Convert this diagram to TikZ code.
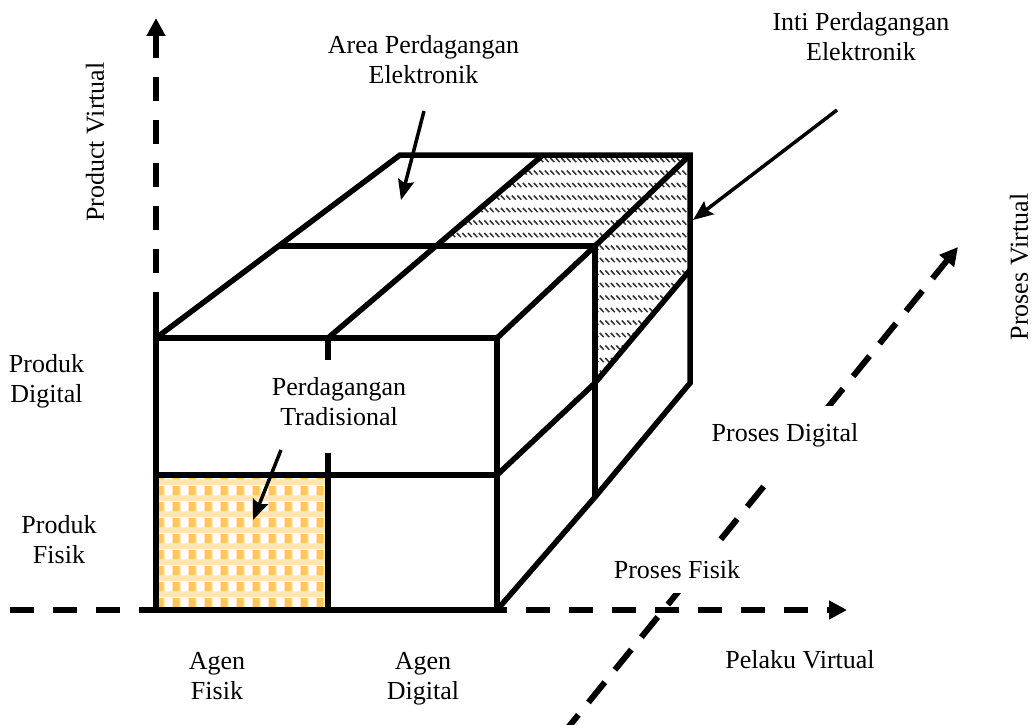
\documentclass[tikz,border=0pt]{standalone}
\usepackage{fontspec}
\setmainfont{Liberation Serif}
\usetikzlibrary{arrows.meta,patterns}

\definecolor{checkdark}{HTML}{FFC65C}
\definecolor{checklight}{HTML}{FFE5B4}
\definecolor{hatchgray}{HTML}{333333}

% gingham check for the traditional-trade cell
\pgfdeclarepatterninherentlycolored{gingham}{\pgfpointorigin}{\pgfqpoint{15.6pt}{16pt}}{\pgfqpoint{15.6pt}{16pt}}{%
  \pgfsetfillcolor{checklight}%
  \pgfpathrectangle{\pgfpointorigin}{\pgfqpoint{15.6pt}{6pt}}%
  \pgfpathrectangle{\pgfqpoint{0pt}{6pt}}{\pgfqpoint{1.2pt}{10pt}}%
  \pgfpathrectangle{\pgfqpoint{7.8pt}{6pt}}{\pgfqpoint{1.2pt}{10pt}}%
  \pgfusepath{fill}%
  \pgfsetfillcolor{checkdark}%
  \pgfpathrectangle{\pgfqpoint{1.2pt}{6pt}}{\pgfqpoint{6.6pt}{10pt}}%
  \pgfusepath{fill}%
}

% rows of short downward-diagonal dashes for the core e-commerce cell
\pgfdeclarepatternformonly{dashhatch}{\pgfqpoint{-1pt}{-1pt}}{\pgfqpoint{6.5pt}{13.5pt}}{\pgfqpoint{5.5pt}{12.5pt}}{%
  \pgfsetlinewidth{1.5pt}%
  \pgfpathmoveto{\pgfqpoint{0.3pt}{4.5pt}}%
  \pgfpathlineto{\pgfqpoint{4.3pt}{0.3pt}}%
  \pgfusepath{stroke}%
}

\newcommand\lblstrut{\rule{0pt}{20pt}}

\tikzset{
  edge/.style={line width=5.5pt, line join=miter},
  axis/.style={line width=6pt, dash pattern=on 24pt off 19pt,
               -{Triangle[length=18pt,width=18pt]}},
  diagaxis/.style={axis, dash pattern=on 26pt off 16pt},
  pointer/.style={line width=3.5pt, -{Stealth[length=20pt,width=16pt,inset=3pt]}},
  lbl/.style={font=\fontsize{26}{30}\selectfont, inner sep=0pt, align=center},
}

\begin{document}
\begin{tikzpicture}[x=1pt, y=-1pt]
\useasboundingbox (0,0) rectangle (1034,725);

% front face corners
\coordinate (fTL) at (156,338); \coordinate (fTM) at (328,338); \coordinate (fTR) at (497,338);
\coordinate (fML) at (156,475); \coordinate (fMM) at (328,475); \coordinate (fMR) at (497,475);
\coordinate (fBL) at (156,610); \coordinate (fBM) at (328,610); \coordinate (fBR) at (497,610);
% back edge
\coordinate (bTL) at (400,155); \coordinate (bTM) at (543,155); \coordinate (bTR) at (690,155);
\coordinate (bRM) at (690,270); \coordinate (bRB) at (690,383);
% middle depth section
\coordinate (mTL) at (279,246); \coordinate (mTM) at (436,246); \coordinate (mTR) at (595,246);
\coordinate (mRM) at (595,383); \coordinate (mRB) at (595,497);

% filled cells
\fill[pattern=gingham] (fML) rectangle (fBM);
\fill[pattern=dashhatch, pattern color=hatchgray]
  (bTM) -- (bTR) -- (bRM) -- (mRM) -- (mTR) -- (mTM) -- cycle;

% axes
\coordinate (yBase) at (156,316); \coordinate (yTip) at (156,18);
\coordinate (xBase) at (10,610);  \coordinate (xTip) at (847,610);
\coordinate (zBase) at (562,735); \coordinate (zTip) at (958,247);
\draw[line width=6pt] (fTL) -- (yBase);
\draw[axis] (yBase) -- (yTip);
\draw[axis] (xBase) -- (xTip);
\draw[diagaxis] (zBase) -- (zTip);

% cube edges
\draw[edge] (fBL) rectangle (fTR);
\draw[edge] (fML) -- (fMR);
\draw[edge] (fTM) -- (fBM);
\draw[edge] (fTL) -- (bTL) -- (bTR) -- (bRB) -- (mRB) -- (fBR);
\draw[edge] (fTR) -- (mTR) -- (bTR);
\draw[edge] (fTM) -- (mTM) -- (bTM);
\draw[edge] (mTL) -- (mTR) -- (mRB);
\draw[edge] (fMR) -- (mRM) -- (bRM);

% labels
\node[lbl, anchor=north] (area) at (423.5,33) {\lblstrut Area Perdagangan\\Elektronik};
\node[lbl, anchor=north] (inti) at (861,10) {\lblstrut Inti Perdagangan\\Elektronik};
\node[lbl, anchor=north] (trad) at (339,360) [fill=white, inner xsep=8pt]
  {\rule{0pt}{35pt}Perdagangan\\Tradisional\rule[-28pt]{0pt}{28pt}};
\node[lbl, anchor=north] (pdigital) at (46.5,352) {\lblstrut Produk\\Digital};
\node[lbl, anchor=north] (pfisik) at (59,513) {\lblstrut Produk\\Fisik};
\node[lbl, anchor=north] (afisik) at (217,649) {\lblstrut Agen\\Fisik};
\node[lbl, anchor=north] (adigital) at (423,649) {\lblstrut Agen\\Digital};
\node[lbl, anchor=base, fill=white, inner xsep=4pt, text height=35pt, text depth=36pt]
  (prdigital) at (785,441) {Proses Digital};
\node[lbl, anchor=base, fill=white, inner xsep=4pt, text height=35pt, text depth=15pt]
  (prfisik) at (677,578) {Proses Fisik};
\node[lbl, anchor=base] (pelaku) at (800,668) {Pelaku Virtual};
\node[lbl, rotate=90] (prodvirt) at (95,142) {Product Virtual};
\node[lbl, rotate=90] (prosvirt) at (1019,267) {Proses Virtual};

% pointers
\coordinate (areaTail) at (424,111); \coordinate (areaTip) at (401,200);
\coordinate (intiTail) at (837,110); \coordinate (intiTip) at (693,220);
\coordinate (tradTail) at (281,450); \coordinate (tradTip) at (253,520);
\draw[pointer] (areaTail) -- (areaTip);
\draw[pointer] (intiTail) -- (intiTip);
\draw[pointer] (tradTail) -- (tradTip);
\end{tikzpicture}
\end{document}
